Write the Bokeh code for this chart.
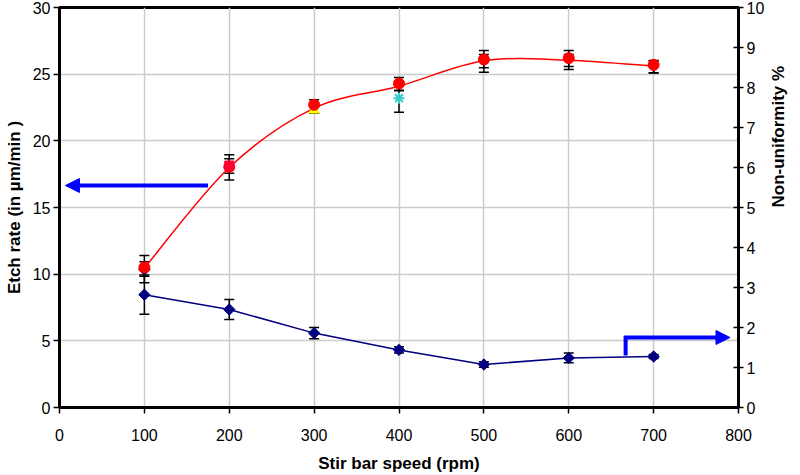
import numpy as np
from bokeh.plotting import figure
from bokeh.models import (Range1d, LinearAxis, Arrow, NormalHead, FixedTicker,
                          Whisker, TeeHead, ColumnDataSource)
from bokeh.embed import file_html
from bokeh.resources import INLINE

# ---------------- data ----------------
speed = [100, 200, 300, 400, 500, 600, 700]

# etch rate, main run (red circles)
etch_a = [10.5, 18.05, 22.7, 24.3, 26.1, 26.2, 25.7]
etch_a_lo = [9.35, 17.07, 22.08, 23.8, 25.15, 25.35, 25.08]
etch_a_hi = [11.4, 18.95, 23.08, 24.75, 26.78, 26.78, 26.0]

# etch rate, mean (smoothed red curve)
etch_mean = [10.45, 18.0, 22.45, 24.1, 26.0, 26.05, 25.6]
etch_mean_lo = [9.85, 17.57, 22.1, 23.75, 25.48, 25.58, 25.1]
etch_mean_hi = [10.93, 18.65, 22.85, 24.45, 26.48, 26.48, 26.03]

# other single runs
other_speed = [100, 200, 300, 400]
other_etch = [10.35, 18.15, 22.3, 23.2]
cyan_lo = [22.15]
cyan_hi = [24.25]

# non-uniformity (right axis)
nonuni = [2.82, 2.45, 1.86, 1.44, 1.075, 1.24, 1.275]
nonuni_err = [0.49, 0.25, 0.14, 0.08, 0.07, 0.12, 0.05]

x_ticks = [0, 100, 200, 300, 400, 500, 600, 700, 800]
y_left_ticks = [0, 5, 10, 15, 20, 25, 30]
y_right_ticks = list(range(0, 11))

FONT = "Liberation Sans"

p = figure(width=800, height=475, output_backend="svg", toolbar_location=None,
           x_range=Range1d(0, 800), y_range=Range1d(0, 30),
           min_border_left=59, min_border_right=62, min_border_top=7,
           min_border_bottom=68, background_fill_color="white")
p.extra_y_ranges = {"right": Range1d(0, 10)}

p.outline_line_color = "black"
p.outline_line_width = 3

# grid
p.xgrid.ticker = FixedTicker(ticks=x_ticks[1:-1])
p.ygrid.ticker = FixedTicker(ticks=y_left_ticks[1:-1])
for g in (p.xgrid, p.ygrid):
    g.grid_line_color = "#CCCCCC"
    g.grid_line_width = 1.5

# axes
p.xaxis.ticker = FixedTicker(ticks=x_ticks)
p.yaxis.ticker = FixedTicker(ticks=y_left_ticks)
p.xaxis.axis_label = "Stir bar speed (rpm)"
p.yaxis.axis_label = "Etch rate (in µm/min )"

raxis = LinearAxis(y_range_name="right", ticker=FixedTicker(ticks=y_right_ticks),
                   axis_label="Non-uniformity %")
p.add_layout(raxis, "right")

for ax in (p.xaxis[0], p.yaxis[0], raxis):
    ax.axis_line_width = 3
    ax.axis_line_color = "black"
    ax.major_tick_line_width = 1.5
    ax.major_tick_line_color = "black"
    ax.minor_tick_line_color = None
    ax.major_tick_out = 6
    ax.major_tick_in = 0
    ax.major_label_text_font = FONT
    ax.major_label_text_font_size = "16px"
    ax.major_label_text_color = "black"
    ax.axis_label_text_font = FONT
    ax.axis_label_text_font_size = "17px"
    ax.axis_label_text_font_style = "bold"
    ax.axis_label_text_color = "black"
    ax.major_label_standoff = 3

raxis.major_tick_in = 5
raxis.major_tick_out = 5
raxis.axis_label_standoff = 11
raxis.axis_label_orientation = np.pi / 2
p.yaxis[0].axis_label_standoff = 6
p.xaxis[0].major_label_standoff = 15
p.xaxis[0].axis_label_standoff = 10

# ---------------- error bars ----------------
src_a = ColumnDataSource(dict(x=speed, lo=etch_a_lo, hi=etch_a_hi))
src_m = ColumnDataSource(dict(x=speed, lo=etch_mean_lo, hi=etch_mean_hi))
src_c = ColumnDataSource(dict(x=other_speed[3:], lo=cyan_lo, hi=cyan_hi))
nu_lo = [v - e for v, e in zip(nonuni, nonuni_err)]
nu_hi = [v + e for v, e in zip(nonuni, nonuni_err)]
src_n = ColumnDataSource(dict(x=speed, lo=nu_lo, hi=nu_hi))

for src, rname in ((src_a, "default"), (src_m, "default"), (src_c, "default"), (src_n, "right")):
    w = Whisker(base="x", lower="lo", upper="hi", source=src, line_color="black",
                line_width=1.5, y_range_name=rname,
                upper_head=TeeHead(size=10, line_color="black", line_width=1.5),
                lower_head=TeeHead(size=10, line_color="black", line_width=1.5))
    p.add_layout(w)

# ---------------- smoothed red curve (Excel-like bezier) ----------------
n = len(speed)
xs = np.array(speed, dtype=float)
ys = np.array(etch_mean, dtype=float)
x0, y0, x1, y1, cx0, cy0, cx1, cy1 = ([] for _ in range(8))
for i in range(n - 1):
    im1 = max(i - 1, 0)
    ip2 = min(i + 2, n - 1)
    x0.append(xs[i]); y0.append(ys[i])
    x1.append(xs[i + 1]); y1.append(ys[i + 1])
    cx0.append(xs[i] + (xs[i + 1] - xs[im1]) / 6); cy0.append(ys[i] + (ys[i + 1] - ys[im1]) / 6)
    cx1.append(xs[i + 1] - (xs[ip2] - xs[i]) / 6); cy1.append(ys[i + 1] - (ys[ip2] - ys[i]) / 6)
p.bezier(x0=x0, y0=y0, x1=x1, y1=y1, cx0=cx0, cy0=cy0, cx1=cx1, cy1=cy1,
         line_color="#FF0000", line_width=1.5)

# ---------------- markers ----------------
p.scatter([other_speed[0]], [other_etch[0]], marker="square", angle=np.pi / 4, size=8,
          fill_color="#000080", line_color="#000080")
p.scatter([other_speed[2]], [other_etch[2]], marker="triangle", size=10,
          fill_color="#FFFF00", line_color="#FFFF00")
p.scatter([other_speed[3]], [other_etch[3]], marker="asterisk", size=11,
          line_color="#33CCCC", line_width=2)
p.scatter(speed, etch_a, marker="circle", size=11, fill_color="#FF0000", line_color="#FF0000")
p.scatter([other_speed[1]], [other_etch[1]], marker="square", size=9,
          fill_color="#FF0033", line_color="#FF0033")

# non-uniformity
p.line(speed, nonuni, line_color="#000080", line_width=1.5, y_range_name="right")
p.scatter(speed, nonuni, marker="square", angle=np.pi / 4, size=8,
          fill_color="#000080", line_color="#000080", y_range_name="right")

# ---------------- arrows ----------------
ARROW = "#0000FF"
p.add_layout(Arrow(x_start=175, y_start=16.65, x_end=7, y_end=16.65,
                   line_color=ARROW, line_width=4,
                   end=NormalHead(size=14, fill_color=ARROW, line_color=ARROW)))
p.segment(x0=[667], y0=[1.3], x1=[667], y1=[1.79], line_color=ARROW, line_width=4,
          y_range_name="right")
p.add_layout(Arrow(x_start=665, y_start=1.75, x_end=790, y_end=1.75,
                   line_color=ARROW, line_width=4, y_range_name="right",
                   end=NormalHead(size=14, fill_color=ARROW, line_color=ARROW)))

open("out.html", "w").write(file_html(p, INLINE))
